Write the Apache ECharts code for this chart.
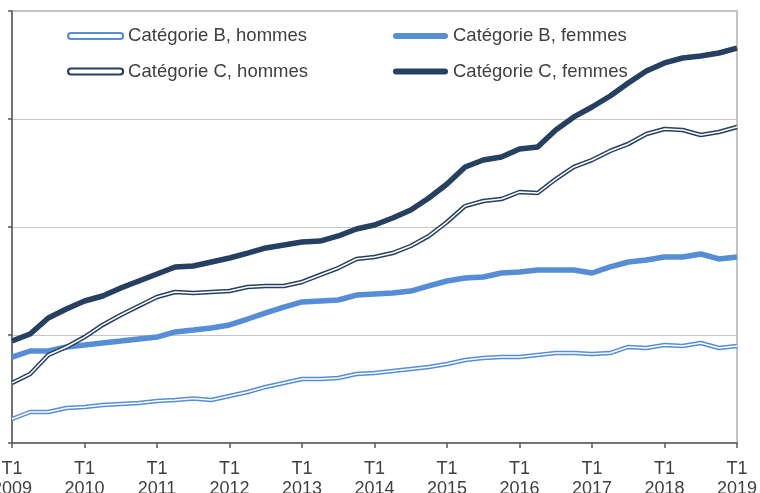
<!DOCTYPE html>
<html>
<head>
<meta charset="utf-8">
<script src="https://cdn.jsdelivr.net/npm/echarts@6/dist/echarts.min.js"></script>
<style>
  html, body { margin: 0; padding: 0; background: #fff; }
  #chart { width: 760px; height: 493px; }
</style>
</head>
<body>
<div id="chart"></div>
<script>
// quarters T1 2009 .. T1 2019
const years = [2009, 2010, 2011, 2012, 2013, 2014, 2015, 2016, 2017, 2018, 2019]
const quarters = []
years.forEach(function(y) {
  for (let q = 1; q <= 4; q++) {
    if (y === 2019 && q > 1) break
    quarters.push('T' + q + ' ' + y)
  }
})

const bHommes = [22.2, 28.7, 28.7, 32.4, 33.3, 35.2, 36.1, 37.0, 38.9, 39.8, 41.2, 39.8, 43.5, 47.2, 51.9, 55.6, 59.3, 59.3, 60.2, 63.9, 64.8, 66.7, 68.5, 70.4, 73.1, 76.9, 78.7, 79.6, 79.6, 81.5, 83.3, 83.3, 82.4, 83.3, 88.9, 88.0, 90.7, 89.8, 92.6, 88.0, 89.8]
const bFemmes = [79.6, 85.2, 85.2, 88.9, 90.7, 92.6, 94.4, 96.3, 98.1, 102.8, 104.6, 106.5, 109.3, 114.8, 120.4, 125.9, 130.6, 131.5, 132.4, 137.0, 138.0, 138.9, 140.7, 145.4, 150.0, 152.8, 153.7, 157.4, 158.3, 160.2, 160.2, 160.2, 157.4, 163.0, 167.6, 169.4, 172.2, 172.2, 175.0, 170.4, 172.2]
const cHommes = [55.6, 63.9, 81.5, 88.9, 98.1, 109.3, 118.5, 126.9, 135.2, 139.8, 138.9, 139.8, 140.7, 144.4, 145.4, 145.4, 149.1, 155.6, 162.0, 170.4, 172.2, 175.9, 182.4, 191.7, 204.6, 219.4, 224.1, 225.9, 232.4, 231.5, 244.4, 255.6, 262.0, 270.4, 276.9, 286.1, 290.7, 289.8, 285.2, 288.0, 292.6]
const cFemmes = [94.4, 100.9, 115.7, 124.1, 131.5, 136.1, 143.5, 150.0, 156.5, 163.0, 163.9, 167.6, 171.3, 175.9, 180.6, 183.3, 186.1, 187.0, 191.7, 198.1, 201.9, 208.3, 215.7, 226.9, 239.8, 255.6, 262.0, 264.8, 272.2, 274.1, 289.8, 301.9, 311.1, 321.3, 333.3, 344.4, 351.9, 356.5, 358.3, 361.1, 365.7]

const light = '#558ED5'
const dark = '#254061'
const textColor = '#404040'

// capsule shaped legend icon (55 x 6)
const capsule = 'path://M3,0 H52 A3,3 0 0 1 52,6 H3 A3,3 0 0 1 3,0 Z'

function doubleIcon(name, color) {
  return { name: name, icon: capsule, itemStyle: { color: '#fff', borderColor: color, borderWidth: 2.2 } }
}
function solidIcon(name, color) {
  return { name: name, icon: capsule, itemStyle: { color: color, borderWidth: 0 } }
}

const legendBase = {
  orient: 'vertical',
  top: 25,
  padding: 0,
  itemWidth: 55,
  itemHeight: 6,
  itemGap: 13.5,
  itemTextGap: 4,
  textStyle: { fontFamily: 'Liberation Sans, Arial, sans-serif', fontSize: 18.5, color: textColor, lineHeight: 22 }
}

const chart = echarts.init(document.getElementById('chart'))
chart.setOption({
  animation: false,
  backgroundColor: '#fff',
  legend: [
    Object.assign({}, legendBase, {
      left: 67,
      data: [doubleIcon('Catégorie B, hommes', light), doubleIcon('Catégorie C, hommes', dark)]
    }),
    Object.assign({}, legendBase, {
      left: 393,
      data: [solidIcon('Catégorie B, femmes', light), solidIcon('Catégorie C, femmes', dark)]
    })
  ],
  grid: {
    left: 12,
    right: 23,
    top: 11,
    bottom: 50,
    outerBoundsMode: 'none',
    containLabel: false,
    show: true,
    borderColor: '#c4c4c4',
    borderWidth: 2
  },
  xAxis: {
    type: 'category',
    boundaryGap: false,
    data: quarters,
    axisLine: { lineStyle: { color: '#595959', width: 1.5 } },
    axisTick: {
      length: 5,
      interval: function(i) { return i % 4 === 0 },
      lineStyle: { color: '#595959', width: 1.5 }
    },
    axisLabel: {
      interval: function(i) { return i % 4 === 0 },
      margin: 16,
      fontFamily: 'Liberation Sans, Arial, sans-serif',
      fontSize: 18,
      lineHeight: 20,
      color: textColor,
      formatter: function(v) { return v.replace(' ', '\n') }
    },
    splitLine: { show: false }
  },
  yAxis: {
    type: 'value',
    min: 0,
    max: 400,
    interval: 100,
    axisLine: { show: true, lineStyle: { color: '#595959', width: 1.5 } },
    axisTick: { show: true, length: 4, lineStyle: { color: '#595959', width: 1.5 } },
    axisLabel: { show: false },
    splitLine: { lineStyle: { color: '#c4c4c4', width: 1 } }
  },
  series: [
    { name: 'Catégorie B, hommes', type: 'line', data: bHommes, symbol: 'none', color: light,
      lineStyle: { color: light, width: 4.5 } },
    { name: 'B hommes (int)', type: 'line', data: bHommes, symbol: 'none', color: '#fff',
      lineStyle: { color: '#fff', width: 1.5 } },
    { name: 'Catégorie B, femmes', type: 'line', data: bFemmes, symbol: 'none', color: light,
      lineStyle: { color: light, width: 5.5 } },
    { name: 'Catégorie C, hommes', type: 'line', data: cHommes, symbol: 'none', color: dark,
      lineStyle: { color: dark, width: 4.5 } },
    { name: 'C hommes (int)', type: 'line', data: cHommes, symbol: 'none', color: '#fff',
      lineStyle: { color: '#fff', width: 1.5 } },
    { name: 'Catégorie C, femmes', type: 'line', data: cFemmes, symbol: 'none', color: dark,
      lineStyle: { color: dark, width: 5.5 } }
  ]
})
</script>
</body>
</html>
